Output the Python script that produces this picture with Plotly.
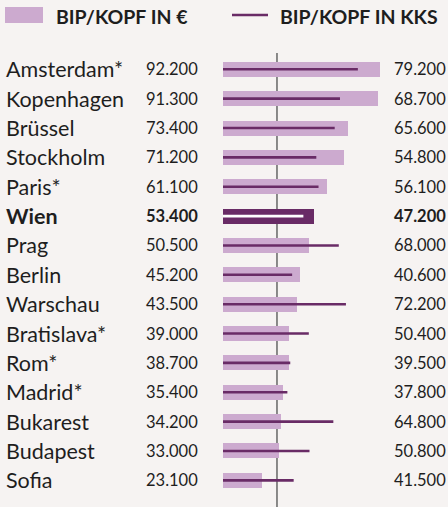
import plotly.graph_objects as go

cities = ["Amsterdam*", "Kopenhagen", "Brüssel", "Stockholm", "Paris*", "Wien", "Prag",
          "Berlin", "Warschau", "Bratislava*", "Rom*", "Madrid*", "Bukarest", "Budapest", "Sofia"]
bip_eur = [92200, 91300, 73400, 71200, 61100, 53400, 50500, 45200, 43500, 39000, 38700,
           35400, 34200, 33000, 23100]
bip_kks = [79200, 68700, 65600, 54800, 56100, 47200, 68000, 40600, 72200, 50400, 39500,
           37800, 64800, 50800, 41500]
eu_avg = 31700
highlight = "Wien"

W, H = 448, 507
BG = "#F6F3F2"
LIGHT = "#CCAACF"
DARK = "#692B66"
TXT = "#1E1E1E"
FONT = "Lato"

px_per_unit = 157 / 92200
x0_px = 223
xmin = -x0_px / px_per_unit
xmax = (W - x0_px) / px_per_unit

row_px = 29.36
first_px = 69.3
ytop = -first_px / row_px
ybot = (H - first_px) / row_px

def fmt(v):
    return f"{v:,}".replace(",", ".")

bar_colors = [DARK if c == highlight else LIGHT for c in cities]

fig = go.Figure()
fig.add_trace(go.Bar(
    y=cities, x=bip_eur, orientation="h", base=0,
    marker=dict(color=bar_colors, line=dict(width=0)),
    width=15 / row_px, hoverinfo="skip", showlegend=False,
))

lx, ly, wx, wy = [], [], [], []
for c, v in zip(cities, bip_kks):
    if c == highlight:
        wx += [0, v, None]
        wy += [c, c, None]
    else:
        lx += [0, v, None]
        ly += [c, c, None]
fig.add_trace(go.Scatter(x=lx, y=ly, mode="lines", line=dict(color=DARK, width=2.6),
                         hoverinfo="skip", showlegend=False))
fig.add_trace(go.Scatter(x=wx, y=wy, mode="lines", line=dict(color="white", width=2.6),
                         hoverinfo="skip", showlegend=False))

# EU reference line (behind bars)
fig.add_shape(type="line", xref="x", yref="paper", x0=eu_avg, x1=eu_avg,
              y0=0, y1=(H - 53) / H, line=dict(color="#6E6E6E", width=1.6), layer="below")

ann = []
for c, e, k in zip(cities, bip_eur, bip_kks):
    bold = c == highlight
    def t(s):
        return f"<b>{s}</b>" if bold else s
    ann.append(dict(x=4 / W, xref="paper", y=c, yref="y", text=t(c), showarrow=False,
                    xanchor="left", yanchor="middle", font=dict(size=21.5, color=TXT, family=FONT)))
    ann.append(dict(x=144 / W, xref="paper", y=c, yref="y", text=t(fmt(e)), showarrow=False,
                    xanchor="left", yanchor="middle", font=dict(size=16.5, color=TXT, family=FONT)))
    ann.append(dict(x=392 / W, xref="paper", y=c, yref="y", text=t(fmt(k)), showarrow=False,
                    xanchor="left", yanchor="middle", font=dict(size=16.5, color=TXT, family=FONT)))

# legend
fig.add_shape(type="rect", xref="paper", yref="paper", x0=5 / W, x1=43 / W,
              y0=1 - 23 / H, y1=1 - 7 / H, fillcolor=LIGHT, line=dict(width=0))
fig.add_shape(type="line", xref="paper", yref="paper", x0=232 / W, x1=268 / W,
              y0=1 - 15 / H, y1=1 - 15 / H, line=dict(color=DARK, width=2.4))
ann.append(dict(x=54 / W, xref="paper", y=1 - 16 / H, yref="paper", text="<b>BIP/KOPF IN €</b>",
                showarrow=False, xanchor="left", yanchor="middle",
                font=dict(size=19.5, color=TXT, family=FONT)))
ann.append(dict(x=278 / W, xref="paper", y=1 - 16 / H, yref="paper", text="<b>BIP/KOPF IN KKS</b>",
                showarrow=False, xanchor="left", yanchor="middle",
                font=dict(size=19.5, color=TXT, family=FONT)))

fig.update_layout(
    width=W, height=H, margin=dict(l=0, r=0, t=0, b=0),
    paper_bgcolor=BG, plot_bgcolor=BG, annotations=ann,
    xaxis=dict(range=[xmin, xmax], visible=False, fixedrange=True),
    yaxis=dict(range=[ybot, ytop], visible=False, categoryorder="array",
               categoryarray=cities, fixedrange=True),
    bargap=0, showlegend=False,
)
fig.write_html("out.html", config={"displayModeBar": False},
               post_script="document.body.style.margin='0';document.body.style.overflow='hidden';")
